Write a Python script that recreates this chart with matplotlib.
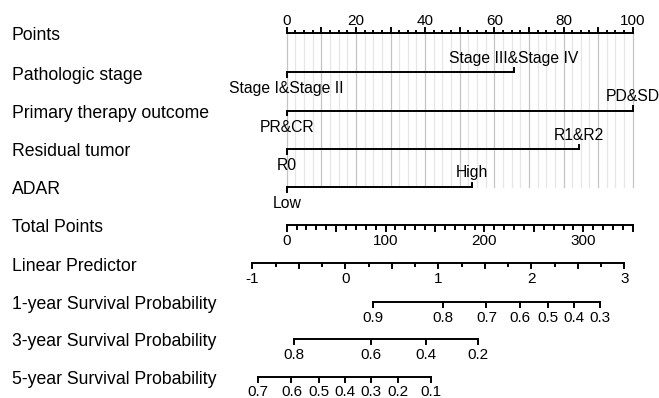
import matplotlib.pyplot as plt
import numpy as np

plt.rcParams['font.family'] = ['Liberation Sans', 'DejaVu Sans']

# Row labels (left column)
row_names = ["Points", "Pathologic stage", "Primary therapy outcome", "Residual tumor",
             "ADAR", "Total Points", "Linear Predictor", "1-year Survival Probability",
             "3-year Survival Probability", "5-year Survival Probability"]

# Predictor levels and their points
stage_levels = ["Stage I&Stage II", "Stage III&Stage IV"]
stage_points = [0, 65.6]
therapy_levels = ["PR&CR", "PD&SD"]
therapy_points = [0, 100]
residual_levels = ["R0", "R1&R2"]
residual_points = [0, 84.4]
adar_levels = ["Low", "High"]
adar_points = [0, 53.5]

# Points scale
points_labels = [0, 20, 40, 60, 80, 100]

# Total points scale
total_max = 350
total_labels = [0, 100, 200, 300]

# Linear predictor: total points where lp = 0, total points per lp unit
lp_labels = [-1, 0, 1, 2, 3]
lp_zero_total = 59.4
lp_unit_total = 94.1

# Survival probabilities and their total-points positions
surv1_probs = [0.9, 0.8, 0.7, 0.6, 0.5, 0.4, 0.3]
surv1_total = [87.3, 158.1, 202.0, 235.7, 264.3, 290.6, 316.9]
surv3_probs = [0.8, 0.6, 0.4, 0.2]
surv3_total = [7.4, 85.7, 140.6, 193.9]
surv5_probs = [0.7, 0.6, 0.5, 0.4, 0.3, 0.2, 0.1]
surv5_total = [-29.0, 4.8, 32.4, 59.4, 85.7, 112.6, 146.4]

# layout (pixel rows, pixel scale)
W, H = 659, 398
x0_px, px_per_pt = 286.7, 3.46
row_y = [33, 72, 110.5, 149, 187, 224.5, 263.3, 301.5, 339, 376.5]
lw = 1.4
fs_row, fs_val, fs_tick = 12.7, 11.3, 11


def tp2p(tp):
    return np.asarray(tp, dtype=float) * 100.0 / total_max


fig = plt.figure(figsize=(W / 100, H / 100), dpi=100)
ax = fig.add_axes([0, 0, 1, 1])
ax.set_xlim(-x0_px / px_per_pt, (W - x0_px) / px_per_pt)
ax.set_ylim(H, 0)
ax.axis('off')

# grid lines
for v in np.arange(0, 100.01, 2.5):
    major = abs(v % 10) < 1e-6
    ax.plot([v, v], [row_y[0], row_y[4]], color='#c4c4c4' if major else '#e6e6e6',
            lw=0.9, zorder=0)

# row labels
lab_x = (11.7 - x0_px) / px_per_pt
for name, y in zip(row_names, row_y):
    ax.text(lab_x, y + 1, name, fontsize=fs_row, ha='left', va='center_baseline')

# Points axis (labels above, ticks up)
y = row_y[0]
ax.plot([0, 100], [y, y], color='black', lw=lw)
for v in np.arange(0, 100.01, 2.5):
    major = abs(v % 10) < 1e-6
    ax.plot([v, v], [y, y - (5 if major else 2.5)], color='black', lw=lw)
for v in points_labels:
    ax.text(v, y - 8, str(v), fontsize=fs_tick, ha='center', va='baseline')

# predictor rows
preds = [(stage_levels, stage_points), (therapy_levels, therapy_points),
         (residual_levels, residual_points), (adar_levels, adar_points)]
for (levels, pts), y in zip(preds, row_y[1:5]):
    ax.plot([pts[0], pts[1]], [y, y], color='black', lw=lw)
    ax.plot([pts[0], pts[0]], [y, y + 4.5], color='black', lw=lw)
    ax.plot([pts[1], pts[1]], [y, y - 4.5], color='black', lw=lw)
    ax.text(pts[0], y + 21, levels[0], fontsize=fs_val, ha='center', va='baseline')
    ax.text(pts[1], y - 9.5, levels[1], fontsize=fs_val, ha='center', va='baseline')

# Total points axis (ticks down)
y = row_y[5]
ax.plot(tp2p([0, total_max]), [y, y], color='black', lw=lw)
for v in np.arange(0, total_max + 0.1, 10):
    major = abs(v % 50) < 1e-6
    ax.plot(tp2p([v, v]), [y, y + (6 if major else 4)], color='black', lw=lw)
for v in total_labels:
    ax.text(tp2p(v), y + 20.5, str(v), fontsize=fs_tick, ha='center', va='baseline')

# Linear predictor axis
y = row_y[6]
lp_all = np.arange(lp_labels[0], lp_labels[-1] + 0.01, 0.25)
lp_x = tp2p(lp_zero_total + lp_all * lp_unit_total)
ax.plot([lp_x[0], lp_x[-1]], [y, y], color='black', lw=lw)
for v, xx in zip(lp_all, lp_x):
    major = abs(v % 0.5) < 1e-6
    ax.plot([xx, xx], [y, y + (5 if major else 3)], color='black', lw=lw)
for v in lp_labels:
    ax.text(tp2p(lp_zero_total + v * lp_unit_total), y + 20, str(v),
            fontsize=fs_tick, ha='center', va='baseline')

# survival axes
for probs, tots, y in [(surv1_probs, surv1_total, row_y[7]),
                       (surv3_probs, surv3_total, row_y[8]),
                       (surv5_probs, surv5_total, row_y[9])]:
    xs = tp2p(tots)
    ax.plot([xs[0], xs[-1]], [y, y], color='black', lw=lw)
    for pr, xx in zip(probs, xs):
        ax.plot([xx, xx], [y, y + 5], color='black', lw=lw)
        ax.text(xx, y + 20, f"{pr:g}", fontsize=fs_tick, ha='center', va='baseline')

fig.savefig('out.png', dpi=100)
